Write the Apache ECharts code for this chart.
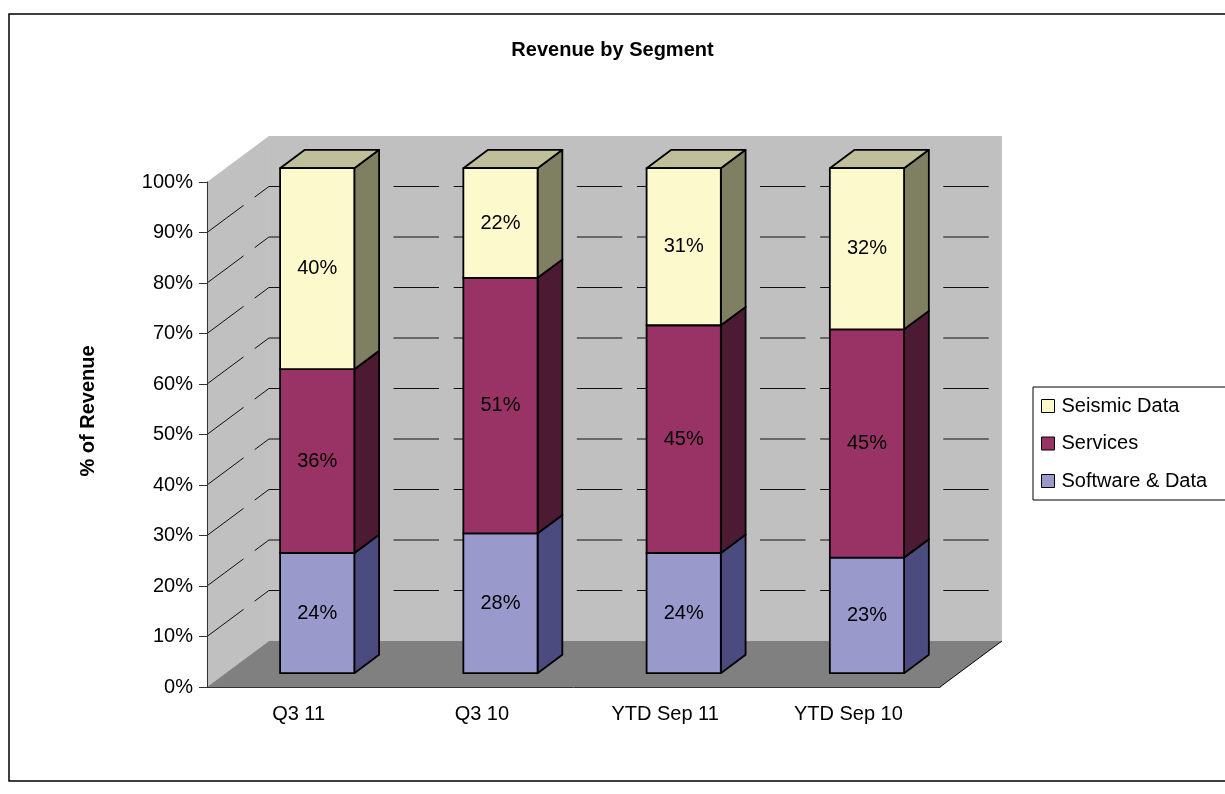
<!DOCTYPE html>
<html><head><meta charset="utf-8">
<script src="https://cdn.jsdelivr.net/npm/echarts@6/dist/echarts.min.js"></script>
<style>html,body{margin:0;padding:0;background:#fff}#c{width:1225px;height:794px}</style>
</head><body><div id="c"></div>
<script>
// ---- data ----
const categories = ['Q3 11', 'Q3 10', 'YTD Sep 11', 'YTD Sep 10'];
const softwareData = [23.8, 27.7, 23.8, 22.9];
const servicesData = [36.4, 50.6, 45.1, 45.2];
const seismicData = [39.8, 21.7, 31.1, 31.9];
const seriesNames = ['Software & Data', 'Services', 'Seismic Data'];
const yTicks = [0, 10, 20, 30, 40, 50, 60, 70, 80, 90, 100];

// ---- style constants ----
const FONT = '"Liberation Sans", Arial, sans-serif';
const FS = 20;
const DEPTH_X = 0.338, DEPTH_Y = 0.251;   // 3D depth as fraction of band width
const BAR_W = 0.405, BAR_FRONT = 0.3, BAR_DEPTH = 0.4;
const COLORS = [
  {front: '#9999CC', side: '#4B4B7F', top: '#7373A6'},
  {front: '#993366', side: '#4C1A33', top: '#73264D'},
  {front: '#FCF9CC', side: '#7F7F62', top: '#BFBF9B'}
];

const valueSets = [softwareData, servicesData, seismicData];
function stackedData(idx) {
  return categories.map((c, i) => {
    let base = 0;
    for (let k = 0; k < idx; k++) base += valueSets[k][i];
    return [i, base, valueSets[idx][i]];
  });
}

function makeBarRender(colors) {
  return function (params, api) {
    const ci = api.value(0), base = api.value(1), val = api.value(2);
    const bw = api.size([1, 0])[0];
    const dx = bw * DEPTH_X, dy = -bw * DEPTH_Y;
    const pB = api.coord([ci, base]), pT = api.coord([ci, base + val]);
    const w = bw * BAR_W;
    const x = pB[0] - w / 2 + dx * BAR_FRONT;
    const yb = pB[1] + dy * BAR_FRONT, yt = pT[1] + dy * BAR_FRONT;
    const ddx = dx * BAR_DEPTH, ddy = dy * BAR_DEPTH;
    const st = (fill) => ({fill: fill, stroke: '#000', lineWidth: 1.8, lineJoin: 'round'});
    return {type: 'group', children: [
      {type: 'polygon', shape: {points: [[x + w, yb], [x + w + ddx, yb + ddy], [x + w + ddx, yt + ddy], [x + w, yt]]}, style: st(colors.side)},
      {type: 'polygon', shape: {points: [[x, yt], [x + w, yt], [x + w + ddx, yt + ddy], [x + ddx, yt + ddy]]}, style: st(colors.top)},
      {type: 'rect', shape: {x: x, y: yt, width: w, height: yb - yt}, style: st(colors.front)},
      {type: 'text', style: {text: Math.round(val) + '%', x: x + w / 2, y: (yt + yb) / 2,
        textAlign: 'center', textVerticalAlign: 'middle', font: FS + 'px ' + FONT, fill: '#000'}}
    ]};
  };
}

function renderWalls(params, api) {
  const cs = params.coordSys;
  const bw = api.size([1, 0])[0];
  const dx = bw * DEPTH_X, dy = -bw * DEPTH_Y;
  const x0 = cs.x, x1 = cs.x + cs.width;
  const yT = api.coord([0, yTicks[yTicks.length - 1]])[1];
  const yB = api.coord([0, yTicks[0]])[1];
  const children = [
    {type: 'polygon', shape: {points: [[x0, yT], [x0 + dx, yT + dy], [x0 + dx, yB + dy], [x0, yB]]}, style: {fill: '#C0C0C0'}},
    {type: 'rect', shape: {x: x0 + dx, y: yT + dy, width: x1 - x0, height: yB - yT}, style: {fill: '#C0C0C0'}},
    {type: 'polygon', shape: {points: [[x0, yB], [x0 + dx, yB + dy], [x1 + dx, yB + dy], [x1, yB]]}, style: {fill: '#808080'}},
    {type: 'line', shape: {x1: x1, y1: yB, x2: x1 + dx, y2: yB + dy}, style: {stroke: '#000', lineWidth: 1}}
  ];
  const ls = {stroke: '#111', lineWidth: 1};
  for (let t = 1; t < yTicks.length - 1; t++) {
    const y = api.coord([0, yTicks[t]])[1];
    children.push({type: 'line', shape: {x1: x0, y1: y, x2: x0 + dx * 0.59, y2: y + dy * 0.59}, style: ls});
    children.push({type: 'line', shape: {x1: x0 + dx * 0.77, y1: y + dy * 0.77, x2: x0 + dx, y2: y + dy}, style: ls});
    for (let i = 0; i < categories.length; i++) {
      const b = x0 + dx + i * bw;
      children.push({type: 'line', shape: {x1: b + (i === 0 ? 0 : 1.5), y1: y + dy, x2: b + bw * 0.3, y2: y + dy}, style: ls});
      children.push({type: 'line', shape: {x1: b + bw * 0.68, y1: y + dy, x2: b + bw * 0.928, y2: y + dy}, style: ls});
    }
  }
  return {type: 'group', children: children};
}

const chart = echarts.init(document.getElementById('c'), null, {renderer: 'canvas'});
const series = [{type: 'custom', z: -1, silent: true, data: [[0, 0]], encode: {x: 0, y: 1}, renderItem: renderWalls}];
for (let s = 0; s < 3; s++) {
  series.push({
    type: 'custom', name: seriesNames[s], z: 2 + s, silent: true,
    itemStyle: {color: COLORS[s].front},
    data: stackedData(s), encode: {x: 0, y: 1},
    renderItem: makeBarRender(COLORS[s])
  });
}

chart.setOption({
  animation: false,
  backgroundColor: '#fff',
  title: {text: 'Revenue by Segment', left: 'center', top: 40, padding: 0,
    textStyle: {fontFamily: FONT, fontSize: FS, fontWeight: 'bold', color: '#000'}},
  legend: {
    data: [seriesNames[2], seriesNames[1], seriesNames[0]],
    orient: 'vertical', left: 1033, top: 387,
    padding: [9, 60, 9, 8], itemGap: 17.5,
    itemWidth: 13, itemHeight: 13, icon: 'rect',
    itemStyle: {borderColor: '#000', borderWidth: 1},
    borderColor: '#000', borderWidth: 1,
    textStyle: {fontFamily: FONT, fontSize: FS, color: '#000', padding: [0, 0, 0, 2]},
    selectedMode: false
  },
  grid: {left: 207, top: 182, width: 733, height: 505, containLabel: false},
  xAxis: {
    type: 'category', data: categories,
    axisLine: {lineStyle: {color: '#333', width: 1}},
    axisTick: {length: 8, lineStyle: {color: '#333'}},
    axisLabel: {margin: 17, fontFamily: FONT, fontSize: FS, color: '#000'},
    splitLine: {show: false}
  },
  yAxis: {
    type: 'value', min: yTicks[0], max: yTicks[yTicks.length - 1], interval: 10,
    axisLine: {show: true, lineStyle: {color: '#333', width: 1}},
    axisTick: {show: true, length: 8, lineStyle: {color: '#333'}},
    axisLabel: {margin: 14, fontFamily: FONT, fontSize: FS, color: '#000', formatter: '{value}%'},
    splitLine: {show: false}
  },
  graphic: [
    {type: 'rect', z: 100, silent: true, shape: {x: 9, y: 14, width: 1240, height: 767},
      style: {fill: 'none', stroke: '#000', lineWidth: 1.5}},
    {type: 'text', z: 100, silent: true, x: 88, y: 411, rotation: Math.PI / 2,
      style: {text: '% of Revenue', font: 'bold 20px ' + FONT, textAlign: 'center', textVerticalAlign: 'middle', fill: '#000'}}
  ],
  series: series
});
</script>
</body></html>
